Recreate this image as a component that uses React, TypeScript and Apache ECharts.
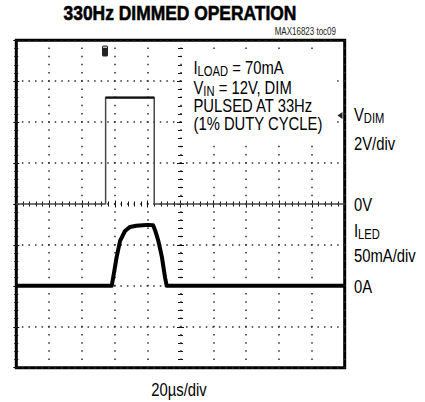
import React, { useEffect, useRef } from "react";
import * as echarts from "echarts";

// ---------- texts ----------
const TITLE = "330Hz DIMMED OPERATION";
const TOC_LABEL = "MAX16823 toc09";
const X_LABEL = "20µs/div";
const NOTE_LINES = ["I_{LOAD} = 70mA", "V_{IN} = 12V, DIM", "PULSED AT 33Hz", "(1% DUTY CYCLE)"];
const VDIM_LABELS = ["V_{DIM}", "2V/div", "0V"];
const ILED_LABELS = ["I_{LED}", "50mA/div", "0A"];

// ---------- scales (one division each) ----------
const TIME_MIN = 0, TIME_MAX = 200, TIME_DIV = 20; // µs, 20µs/div
const VDIM_MIN = -8, VDIM_MAX = 8, VDIM_DIV = 2; // V, 2V/div
const ILED_MIN = -100, ILED_MAX = 300, ILED_DIV = 50; // mA, 50mA/div

// ---------- VDIM trace (µs, V) ----------
const vdimTimeUs = [0, 54.4, 54.4, 84.0, 84.0, 200];
const vdimVolts = [0, 0, 5.2, 5.2, 0, 0];

// ---------- ILED trace (µs, mA) ----------
const iledTimeUs = [0, 58.1, 59.6, 61.1, 63.2, 66.2, 69.3, 73, 77, 80, 83.3, 84.5, 86.5, 88.6, 90.6, 91.6, 200];
const iledMilliamps = [0, 0, 17, 35, 55, 67, 72, 73.5, 74, 74.5, 74, 68, 55, 36, 10, 0, 0];

const FONT = "'Liberation Sans', Arial, sans-serif";
const NARROW = 0.8;

const GRID = { left: 16.3, top: 40.3, width: 328.4, height: 327.4 };

function toRich(s: string) {
  return s
    .split(/(_\{[^}]*\})/)
    .filter((p) => p.length > 0)
    .map((p) => (p.startsWith("_{") ? `{s|${p.slice(2, -1)}}` : `{m|${p}}`))
    .join("");
}

const RICH = {
  m: { fontSize: 18.5, lineHeight: 20, fontFamily: FONT, fill: "#000" },
  s: { fontSize: 14, lineHeight: 10, fontFamily: FONT, fill: "#000", verticalAlign: "bottom" },
};

function label(text: string, x: number, y: number, align = "left") {
  return {
    type: "text",
    x,
    y,
    z: 10,
    scaleX: NARROW,
    silent: true,
    style: { text: toRich(text), rich: RICH, align, verticalAlign: "top", fill: "#000" },
  };
}

function buildOption() {
  const DOT = "#2b2b2b";
  const tick = (len: number, inside: boolean) => ({
    show: true,
    inside,
    length: len,
    lineStyle: { color: "#111", width: 1 },
  });
  const minor = (len: number) => ({ show: true, splitNumber: 5, length: len, lineStyle: { color: "#111", width: 1 } });
  const base = {
    type: "value",
    axisLabel: { show: false },
    axisLine: { show: false },
    splitLine: { show: false },
  };
  const tAx = { ...base, min: TIME_MIN, max: TIME_MAX, interval: TIME_DIV };
  const vAx = { ...base, min: VDIM_MIN, max: VDIM_MAX, interval: VDIM_DIV };
  const xDotSpacing = GRID.height / 40;
  const yDotSpacing = GRID.width / 50;

  const vdimData = vdimTimeUs.map((t, i) => [t, vdimVolts[i]]);
  const vdimHigh = vdimData.filter((p) => p[1] > 0);
  const iledData = iledTimeUs.map((t, i) => [t, iledMilliamps[i]]);

  const noteTops = [58.2, 78.2, 96.0, 114.2];
  const rightTops = [105.2, 134.4, 195.2, 221.4, 246.0, 277.4];

  return {
    animation: false,
    grid: { ...GRID, show: true, borderColor: "#000", borderWidth: 3, backgroundColor: "transparent" },
    xAxis: [
      {
        ...tAx,
        position: "bottom",
        splitLine: { show: true, lineStyle: { color: DOT, width: 1.5, type: [1.5, xDotSpacing - 1.5], dashOffset: 0.75 } },
        axisTick: tick(3, true),
        minorTick: minor(2),
      },
      { ...tAx, position: "top", axisTick: tick(3, true), minorTick: minor(2) },
      { ...tAx, position: "bottom", offset: -GRID.height / 2, axisTick: tick(3.5, false), minorTick: minor(2.5) },
      { ...tAx, position: "top", offset: -GRID.height / 2, axisTick: tick(3.5, false), minorTick: minor(2.5) },
    ],
    yAxis: [
      {
        ...vAx,
        position: "left",
        splitLine: { show: true, lineStyle: { color: DOT, width: 1.5, type: [1.5, yDotSpacing - 1.5], dashOffset: 0.75 } },
        axisTick: tick(3, true),
        minorTick: minor(2),
      },
      { ...vAx, position: "right", axisTick: tick(3, true), minorTick: minor(2) },
      { ...vAx, position: "left", offset: -GRID.width / 2, axisTick: tick(3.5, false), minorTick: minor(2.5) },
      { ...vAx, position: "right", offset: -GRID.width / 2, axisTick: tick(3.5, false), minorTick: minor(2.5) },
      { type: "value", show: false, min: ILED_MIN, max: ILED_MAX, interval: ILED_DIV, position: "right" },
    ],
    series: [
      {
        type: "line",
        name: "VDIM",
        xAxisIndex: 0,
        yAxisIndex: 0,
        data: vdimData,
        symbol: "none",
        lineStyle: { color: "#4a4a4a", width: 1.5 },
        z: 3,
      },
      {
        type: "line",
        name: "VDIM high",
        xAxisIndex: 0,
        yAxisIndex: 0,
        data: vdimHigh,
        symbol: "none",
        lineStyle: { color: "#111", width: 2.2 },
        z: 4,
      },
      {
        type: "line",
        name: "ILED",
        xAxisIndex: 0,
        yAxisIndex: 4,
        data: iledData,
        symbol: "none",
        lineStyle: { color: "#000", width: 4, join: "round" },
        z: 5,
      },
    ],
    graphic: [
      {
        type: "text",
        x: 180,
        y: 2,
        scaleX: 0.83,
        silent: true,
        style: {
          text: TITLE,
          fontSize: 21,
          fontWeight: "bold",
          fontFamily: FONT,
          fill: "#000",
          stroke: "#000",
          lineWidth: 0.6,
          align: "center",
          verticalAlign: "top",
        },
      },
      {
        type: "text",
        x: 336,
        y: 27,
        scaleX: NARROW,
        silent: true,
        style: { text: TOC_LABEL, fontSize: 10, fontFamily: FONT, fill: "#222", align: "right", verticalAlign: "top" },
      },
      // white panel behind the test conditions
      { type: "rect", z: 1, silent: true, shape: { x: 182, y: 50, width: 151, height: 93 }, style: { fill: "#fff" } },
      ...NOTE_LINES.map((t, i) => label(t, 193.5, noteTops[i])),
      ...[...VDIM_LABELS, ...ILED_LABELS].map((t, i) => label(t, 354, rightTops[i])),
      label(X_LABEL, 179, 380.4, "center"),
      // trigger position marker
      { type: "rect", z: 10, silent: true, shape: { x: 102, y: 45.5, width: 6, height: 11, r: 1.5 }, style: { fill: "#222" } },
      { type: "rect", z: 10, silent: true, shape: { x: 103, y: 46.5, width: 4, height: 1.5 }, style: { fill: "#bbb" } },
      // trigger level marker
      {
        type: "polygon",
        z: 10,
        silent: true,
        shape: { points: [[337.5, 115.5], [342.5, 112], [342.5, 119]] },
        style: { fill: "#222" },
      },
    ],
  };
}

export default function App() {
  const ref = useRef<HTMLDivElement>(null);
  useEffect(() => {
    if (!ref.current) return;
    const chart = echarts.init(ref.current, null, { renderer: "svg" });
    chart.setOption(buildOption() as any);
    return () => chart.dispose();
  }, []);
  return (
    <div
      ref={ref}
      style={{ position: "absolute", left: 0, top: 0, width: 425, height: 402, background: "#fff" }}
    />
  );
}
